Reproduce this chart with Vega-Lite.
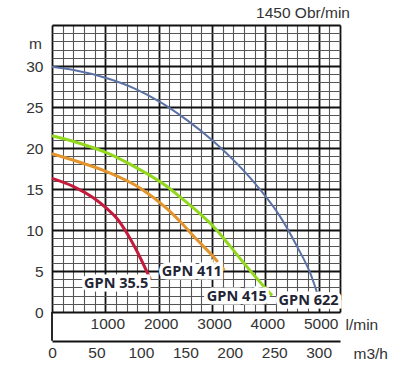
{
  "$schema": "https://vega.github.io/schema/vega-lite/v6.json",
  "width": 288,
  "height": 287,
  "autosize": {"type": "none"},
  "padding": {"left": 52, "top": 25, "right": 60, "bottom": 64},
  "background": "white",
  "title": {"text": "1450 Obr/min", "anchor": "end", "frame": "group", "fontSize": 15.5, "fontWeight": "normal", "font": "Liberation Sans", "color": "#333333", "dx": 10, "dy": 20, "offset": 5, "baseline": "alphabetic"},
  "config": {
    "view": {"stroke": null},
    "axis": {"labelFont": "Liberation Sans", "titleFont": "Liberation Sans", "labelFontSize": 15.5, "titleFontSize": 15.5, "labelColor": "#333333", "titleColor": "#333333", "titleFontWeight": "normal", "ticks": false, "labelOverlap": false, "labelFlush": false, "labelBound": false}
  },
  "datasets": {
    "curves": [
      {"pump": "GPN 622", "q": 0, "h": 29.9},
      {"pump": "GPN 622", "q": 406, "h": 29.5},
      {"pump": "GPN 622", "q": 1031, "h": 28.5},
      {"pump": "GPN 622", "q": 1531, "h": 27.3},
      {"pump": "GPN 622", "q": 2031, "h": 25.6},
      {"pump": "GPN 622", "q": 2531, "h": 23.4},
      {"pump": "GPN 622", "q": 3031, "h": 20.8},
      {"pump": "GPN 622", "q": 3469, "h": 18.1},
      {"pump": "GPN 622", "q": 3906, "h": 14.9},
      {"pump": "GPN 622", "q": 4281, "h": 11.6},
      {"pump": "GPN 622", "q": 4594, "h": 8.0},
      {"pump": "GPN 622", "q": 4844, "h": 4.7},
      {"pump": "GPN 622", "q": 4969, "h": 2.4},
      {"pump": "GPN 415", "q": 0, "h": 21.5},
      {"pump": "GPN 415", "q": 406, "h": 20.8},
      {"pump": "GPN 415", "q": 1031, "h": 19.4},
      {"pump": "GPN 415", "q": 1468, "h": 18.0},
      {"pump": "GPN 415", "q": 2156, "h": 15.3},
      {"pump": "GPN 415", "q": 2406, "h": 14.0},
      {"pump": "GPN 415", "q": 2719, "h": 12.3},
      {"pump": "GPN 415", "q": 3031, "h": 10.4},
      {"pump": "GPN 415", "q": 3343, "h": 8.0},
      {"pump": "GPN 415", "q": 3656, "h": 5.5},
      {"pump": "GPN 415", "q": 4125, "h": 2.0},
      {"pump": "GPN 411", "q": 0, "h": 19.3},
      {"pump": "GPN 411", "q": 406, "h": 18.5},
      {"pump": "GPN 411", "q": 1031, "h": 17.1},
      {"pump": "GPN 411", "q": 1656, "h": 15.1},
      {"pump": "GPN 411", "q": 2156, "h": 12.6},
      {"pump": "GPN 411", "q": 2406, "h": 11.0},
      {"pump": "GPN 411", "q": 2719, "h": 8.8},
      {"pump": "GPN 411", "q": 3031, "h": 6.7},
      {"pump": "GPN 411", "q": 3230, "h": 5.1},
      {"pump": "GPN 35.5", "q": 0, "h": 16.3},
      {"pump": "GPN 35.5", "q": 406, "h": 15.3},
      {"pump": "GPN 35.5", "q": 781, "h": 13.9},
      {"pump": "GPN 35.5", "q": 1031, "h": 12.6},
      {"pump": "GPN 35.5", "q": 1219, "h": 11.4},
      {"pump": "GPN 35.5", "q": 1406, "h": 9.6},
      {"pump": "GPN 35.5", "q": 1562, "h": 7.8},
      {"pump": "GPN 35.5", "q": 1844, "h": 4.0}
    ],
    "labels": [
      {"pump": "GPN 35.5", "q": 1202, "h": 3.4},
      {"pump": "GPN 411", "q": 2621, "h": 4.9},
      {"pump": "GPN 415", "q": 3465, "h": 1.8},
      {"pump": "GPN 622", "q": 4812, "h": 1.3}
    ]
  },
  "layer": [
    {
      "data": {"name": "curves"},
      "mark": {"type": "line", "interpolate": "monotone"},
      "encoding": {
        "x": {
          "field": "q", "type": "quantitative",
          "scale": {"domain": [0, 5400], "nice": false, "zero": false},
          "axis": {
            "orient": "bottom", "offset": 0, "domain": false,
            "values": [0,200,400,600,800,1000,1200,1400,1600,1800,2000,2200,2400,2600,2800,3000,3200,3400,3600,3800,4000,4200,4400,4600,4800,5000,5200,5400],
            "format": "d",
            "labelExpr": "datum.value % 1000 === 0 && datum.value > 0 && datum.value <= 5000 ? datum.label : ''",
            "labelPadding": 4, "labelBaseline": "top", "labelOffset": 2,
            "grid": true,
            "gridColor": {"condition": {"test": "datum.value % 1000 === 0 || datum.value === 5400", "value": "#111111"}, "value": "#555555"},
            "gridWidth": {"condition": {"test": "datum.value % 1000 === 0 || datum.value === 5400", "value": 1.8}, "value": 1.1},
            "title": "l/min", "titleX": 293, "titleY": 12, "titleAlign": "left", "titleBaseline": "middle", "titleAngle": 0
          }
        },
        "y": {
          "field": "h", "type": "quantitative",
          "scale": {"domain": [0, 35], "nice": false, "zero": false},
          "axis": {
            "orient": "left", "domain": false,
            "values": [0,1,2,3,4,5,6,7,8,9,10,11,12,13,14,15,16,17,18,19,20,21,22,23,24,25,26,27,28,29,30,31,32,33,34,35],
            "labelExpr": "datum.value % 5 === 0 && datum.value <= 30 ? datum.label : ''",
            "labelPadding": 9,
            "grid": true,
            "gridColor": {"condition": {"test": "datum.value % 5 === 0", "value": "#111111"}, "value": "#555555"},
            "gridWidth": {"condition": {"test": "datum.value % 5 === 0", "value": 1.8}, "value": 1.1},
            "title": "m", "titleAngle": 0, "titleX": -17, "titleY": 18, "titleAlign": "center", "titleBaseline": "middle"
          }
        },
        "color": {"field": "pump", "type": "nominal", "scale": {"domain": ["GPN 35.5", "GPN 411", "GPN 415", "GPN 622"], "range": ["#c41a3b", "#e3952b", "#92d81c", "#5b72a6"]}, "legend": null},
        "strokeWidth": {"condition": {"test": "datum.pump === 'GPN 622'", "value": 2}, "value": 3}
      }
    },
    {
      "data": {"name": "labels"},
      "mark": {"type": "text", "font": "Open Sans", "fontWeight": "bold", "fontSize": 14.5, "align": "center", "baseline": "middle", "fill": "white", "stroke": "white", "strokeWidth": 7, "strokeJoin": "miter"},
      "encoding": {
        "x": {
          "field": "q", "type": "quantitative",
          "axis": {
            "orient": "bottom", "offset": 29, "domain": true, "domainColor": "#111111", "domainWidth": 2,
            "values": [0, 833.3333, 1666.6667, 2500, 3333.3333, 4166.6667, 5000],
            "labelExpr": "format(datum.value * 0.06, '.0f')",
            "labelPadding": 4, "labelBaseline": "top",
            "grid": false,
            "title": "m3/h", "titleX": 301, "titleY": 12, "titleAlign": "left", "titleBaseline": "middle", "titleAngle": 0
          }
        },
        "y": {"field": "h", "type": "quantitative", "axis": null},
        "text": {"field": "pump"}
      }
    },
    {
      "data": {"name": "labels"},
      "mark": {"type": "text", "font": "Open Sans", "fontWeight": "bold", "fontSize": 14.5, "align": "center", "baseline": "middle", "fill": "#1f2535"},
      "encoding": {
        "x": {"field": "q", "type": "quantitative", "axis": null},
        "y": {"field": "h", "type": "quantitative", "axis": null},
        "text": {"field": "pump"}
      }
    },
    {
      "data": {"values": [{"q": 0, "a": 0, "b": -3.5}]},
      "mark": {"type": "rule", "color": "#111111", "strokeWidth": 1.8},
      "encoding": {
        "x": {"field": "q", "type": "quantitative", "axis": null},
        "y": {"field": "a", "type": "quantitative", "axis": null},
        "y2": {"field": "b"}
      }
    }
  ],
  "resolve": {"axis": {"x": "independent", "y": "independent"}}
}
